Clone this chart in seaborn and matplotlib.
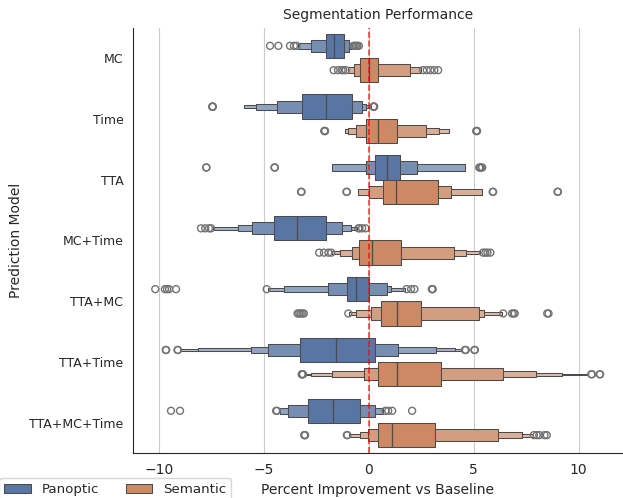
import matplotlib
matplotlib.use("Agg")
import matplotlib.pyplot as plt
import pandas as pd
import seaborn as sns

models = ["MC", "Time", "TTA", "MC+Time", "TTA+MC", "TTA+Time", "TTA+MC+Time"]
tasks = ["Panoptic", "Semantic"]

# Letter values per model, ordered outermost-low ... Q1, Q3 ... outermost-high
panoptic_letter_values = [
    [-3.40, -2.74, -2.06, -1.19, -0.95, -0.80],
    [-5.94, -5.39, -4.39, -3.17, -0.82, -0.35, -0.16, 0.08],
    [-1.74, -0.13, 0.29, 1.46, 2.30, 4.56],
    [-7.45, -6.26, -5.55, -4.52, -2.06, -1.30, -0.87, -0.56],
    [-4.82, -4.04, -1.93, -1.06, 0.00, 0.84, 1.06, 1.74],
    [-9.00, -8.14, -5.63, -4.79, -3.28, 0.27, 1.39, 3.22, 4.12, 4.44],
    [-4.25, -3.85, -2.89, -0.40, 0.29, 0.68],
]
panoptic_medians = [-1.66, -2.06, 0.87, -3.41, -0.59, -1.55, -1.71]
panoptic_low_outliers = [
    [-4.71, -4.31, -3.76, -3.57, -3.45],
    [-7.46, -7.45, -7.45, -7.44],
    [-7.75, -7.74, -4.50, -4.48],
    [-8.00, -7.80, -7.62, -7.52],
    [-10.18, -9.72, -9.62, -9.52, -9.19, -4.87],
    [-9.68, -9.66, -9.12, -9.10],
    [-9.43, -9.00, -4.42, -4.38],
]
panoptic_high_outliers = [
    [-0.74, -0.68, -0.62, -0.55, -0.48],
    [0.22, 0.23, 0.24, 0.25],
    [5.26, 5.30, 5.36, 5.40],
    [-0.50, -0.45, -0.32, -0.16],
    [1.80, 2.01, 2.17, 3.00, 3.02, 3.04],
    [4.58, 4.62, 5.03, 5.05],
    [0.79, 0.92, 1.11, 2.06],
]

semantic_letter_values = [
    [-1.00, -0.71, -0.44, 0.44, 1.95, 2.50],
    [-1.12, -0.98, -0.63, -0.16, 1.32, 2.74, 3.36, 3.83],
    [-0.51, 0.00, 0.67, 3.30, 3.93, 5.38],
    [-1.74, -1.38, -0.82, -0.46, 1.54, 4.08, 4.62, 5.30],
    [-0.95, -0.60, 0.11, 0.59, 2.50, 5.26, 5.49, 6.35],
    [-3.05, -2.77, -1.78, -0.24, 0.42, 3.46, 6.39, 7.97, 9.19, 10.38],
    [-0.95, -0.44, -0.03, 0.43, 3.17, 6.13, 7.29, 7.80],
]
semantic_medians = [0.00, 0.44, 1.30, 0.16, 1.32, 1.32, 1.08]
semantic_low_outliers = [
    [-1.68, -1.47, -1.30, -1.22, -1.10],
    [-2.12, -2.11, -2.10, -2.09],
    [-3.23, -3.21, -1.07, -1.05],
    [-2.37, -2.14, -1.93, -1.79],
    [-3.40, -3.32, -3.25, -3.17, -3.10, -0.98],
    [-3.20, -3.18, -3.16, -3.14],
    [-3.08, -3.06, -3.04, -1.05, -1.02],
]
semantic_high_outliers = [
    [2.58, 2.76, 2.93, 3.12, 3.30],
    [5.12, 5.13, 5.14, 5.15],
    [5.90, 5.92, 8.99, 9.01],
    [5.44, 5.55, 5.65, 5.79],
    [6.40, 6.82, 6.90, 6.95, 8.50, 8.56],
    [10.60, 10.63, 11.00, 11.02],
    [7.86, 8.00, 8.12, 8.37, 8.48],
]


def samples_from_letter_values(letters, median, low_out, high_out):
    """Sample set whose Tukey letter values equal the given ones."""
    k = len(letters) // 2
    f = len(low_out)
    lower = letters[:k]
    upper = letters[k:][::-1]
    values = list(low_out)
    for j, v in enumerate(lower):
        values += [v] * (f * 2 ** j)
    values.append(median)
    for j, v in enumerate(upper):
        values += [v] * (f * 2 ** j)
    values += list(high_out)
    return values


rows = []
task_tables = {
    "Panoptic": (panoptic_letter_values, panoptic_medians,
                 panoptic_low_outliers, panoptic_high_outliers),
    "Semantic": (semantic_letter_values, semantic_medians,
                 semantic_low_outliers, semantic_high_outliers),
}
for task in tasks:
    lvs, meds, lows, highs = task_tables[task]
    for i, model in enumerate(models):
        for v in samples_from_letter_values(lvs[i], meds[i], lows[i], highs[i]):
            rows.append({"model": model, "task": task, "improvement": v})
df = pd.DataFrame(rows)

sns.set_style("white")
fig, ax = plt.subplots(figsize=(6.23, 4.98), dpi=100)
fig.subplots_adjust(left=0.2135, right=0.999, top=0.9446, bottom=0.0896)

sns.boxenplot(data=df, x="improvement", y="model", hue="task",
              order=models, hue_order=tasks,
              palette=sns.color_palette("deep", 2), ax=ax)
ax.axvline(0, color="red", linestyle="--", linewidth=1.2, alpha=0.75, zorder=5)
ax.xaxis.grid(True)
ax.set_axisbelow(True)
sns.despine(ax=ax)
ax.tick_params(axis="y", labelsize=9)

ax.set_title("Segmentation Performance", fontsize=10)
ax.set_xlabel("Percent Improvement vs Baseline")
ax.set_ylabel("Prediction Model")
sns.move_legend(ax, "upper left", bbox_to_anchor=(-0.274, -0.058), ncol=2,
                title=None, frameon=True, borderaxespad=0, fontsize=9.6)

fig.savefig("out.png", dpi=100)
